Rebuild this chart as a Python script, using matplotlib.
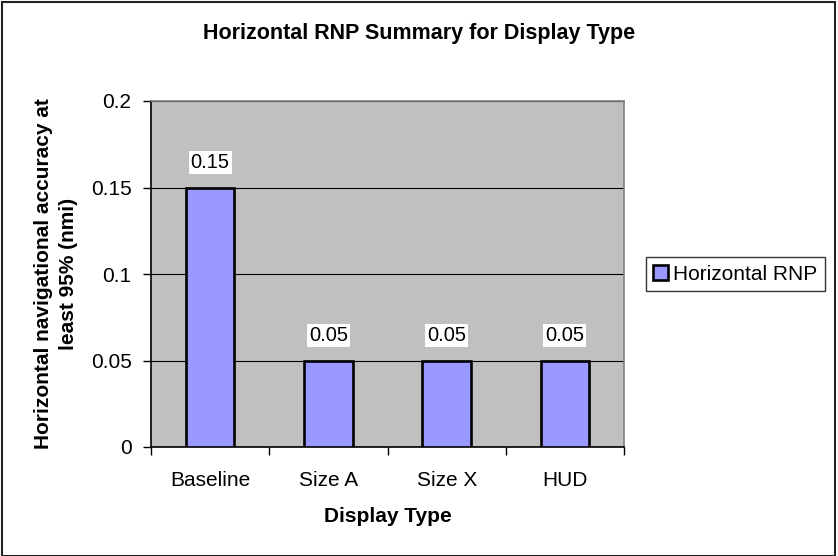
import matplotlib
matplotlib.use("Agg")
import matplotlib.pyplot as plt
from matplotlib.patches import Rectangle

plt.rcParams['font.family'] = ['Liberation Sans', 'DejaVu Sans']

# Daten
categories = ["Baseline", "Size A", "Size X", "HUD"]
rnp_values = [0.15, 0.05, 0.05, 0.05]
series_name = "Horizontal RNP"
y_ticks = [0, 0.05, 0.1, 0.15, 0.2]
y_tick_labels = ["0", "0.05", "0.1", "0.15", "0.2"]

W, H = 838, 556
fig = plt.figure(figsize=(W / 100, H / 100), dpi=100)
ax = fig.add_axes([151 / W, 1 - 447 / H, (624 - 151) / W, (447 - 101) / H])

ax.set_facecolor("#C0C0C0")
ax.set_axisbelow(True)
ax.yaxis.grid(True, color="black", linewidth=0.8)

x = list(range(len(categories)))
bars = ax.bar(x, rnp_values, width=0.41, color="#9999FF", edgecolor="black",
              linewidth=1.9, label=series_name, zorder=3)

# Werte ueber den Balken
for xi, v in zip(x, rnp_values):
    ax.annotate(f"{v:g}", (xi, v), xytext=(0, 18), textcoords="offset points",
                ha="center", va="center", fontsize=14.5,
                bbox=dict(facecolor="white", edgecolor="none", pad=1.5))

ax.set_xlim(-0.5, len(categories) - 0.5)
ax.set_ylim(0, 0.2)
ax.set_yticks(y_ticks)
ax.set_yticklabels(y_tick_labels, fontsize=15)
ax.set_xticks(x)
ax.set_xticklabels(categories, fontsize=15)
ax.set_xticks([i - 0.5 for i in range(len(categories) + 1)], minor=True)
ax.tick_params(axis="x", which="major", length=0, pad=17)
ax.tick_params(axis="x", which="minor", length=6, width=1, direction="out")
ax.tick_params(axis="y", length=6, width=1, direction="out", pad=8)

for side in ["top", "right"]:
    ax.spines[side].set_color("#808080")
    ax.spines[side].set_linewidth(1.2)
for side in ["left", "bottom"]:
    ax.spines[side].set_color("black")
    ax.spines[side].set_linewidth(1.2)

fig.text(0.5, 1 - 33 / H, "Horizontal RNP Summary for Display Type",
         ha="center", va="center", fontsize=15.5, fontweight="bold")
fig.text(387.5 / W, 1 - 517 / H, "Display Type",
         ha="center", va="center", fontsize=15, fontweight="bold")
fig.text(56 / W, 1 - 274 / H, "Horizontal navigational accuracy at\nleast 95% (nmi)",
         ha="center", va="center", rotation=90, fontsize=15, fontweight="bold",
         multialignment="center", linespacing=1.45)

leg = fig.legend(handles=[bars], labels=[series_name], loc="center left",
                 bbox_to_anchor=(646 / W, 1 - 274 / H), fontsize=15,
                 frameon=True, fancybox=False, edgecolor="black",
                 handlelength=0.7, handleheight=0.7, handletextpad=0.25,
                 borderpad=0.35, borderaxespad=0)
leg.get_frame().set_linewidth(1)

# Rahmen um die ganze Grafik
fig.patches.append(Rectangle((0.002, 0.0), 0.995, 0.997, transform=fig.transFigure,
                             fill=False, edgecolor="#222222", linewidth=1.5))

fig.savefig("out.png", dpi=100)
